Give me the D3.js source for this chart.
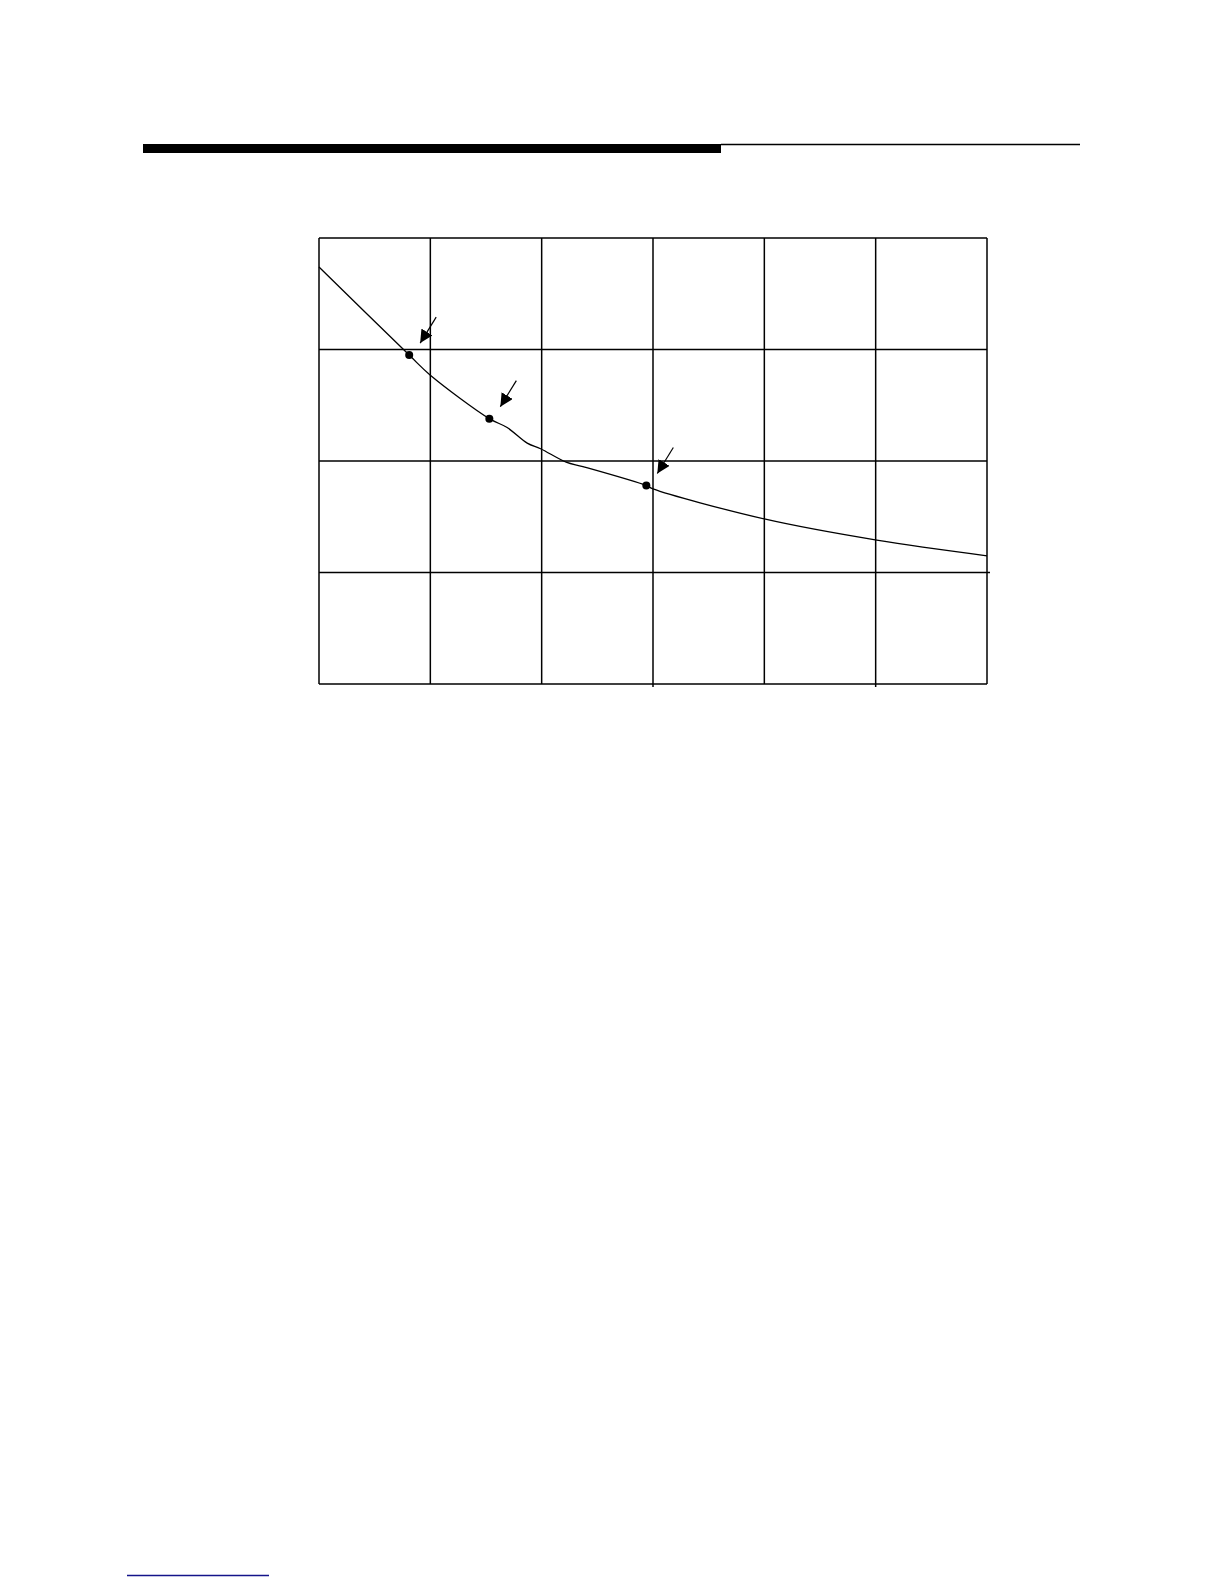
<!DOCTYPE html>
<html>
<head>
<meta charset="utf-8">
<script src="https://cdn.jsdelivr.net/npm/d3@7"></script>
<style>
  html, body { margin: 0; padding: 0; background: #fff; }
  svg { display: block; }
</style>
</head>
<body>
<script>
// Grid divisions (unlabeled chart): 6 columns x 4 rows
const xTicks = [0, 1, 2, 3, 4, 5, 6];
const yTicks = [0, 1, 2, 3, 4];

// Curve values (x in grid columns, y in grid rows)
const curveX = [0, 0.81, 1.0, 1.53, 1.69, 1.87, 1.99, 2.22, 2.37, 2.94, 3.0, 4.0, 5.01, 6.0];
const curveY = [3.74, 2.95, 2.77, 2.38, 2.30, 2.16, 2.11, 1.99, 1.95, 1.78, 1.75, 1.48, 1.29, 1.15];

// Marked points
const pointX = [0.81, 1.53, 2.94];
const pointY = [2.95, 2.38, 1.78];

const W = 1224, H = 1584;
const svg = d3.select("body").append("svg").attr("width", W).attr("height", H);

// Header rule
svg.append("rect").attr("x", 143).attr("y", 144).attr("width", 578).attr("height", 9).attr("fill", "#000");
svg.append("line").attr("x1", 721).attr("x2", 1080).attr("y1", 144.5).attr("y2", 144.5)
  .attr("stroke", "#000").attr("stroke-width", 1.3);

// Footnote separator
svg.append("line").attr("x1", 127).attr("x2", 269).attr("y1", 1575.5).attr("y2", 1575.5)
  .attr("stroke", "#14148a").attr("stroke-width", 1.3);

const x = d3.scaleLinear().domain([0, 6]).range([319, 987]);
const y = d3.scaleLinear().domain([0, 4]).range([684, 238]);

const g = svg.append("g");

// Vertical grid lines
g.selectAll("line.v").data(xTicks).join("line")
  .attr("class", "v")
  .attr("x1", d => x(d)).attr("x2", d => x(d))
  .attr("y1", y(4)).attr("y2", (d, i) => (i === 3 || i === 5) ? y(0) + 3 : y(0))
  .attr("stroke", "#000").attr("stroke-width", 1.5);

// Horizontal grid lines
g.selectAll("line.h").data(yTicks).join("line")
  .attr("class", "h")
  .attr("x1", x(0)).attr("x2", d => d === 1 ? x(6) + 3 : x(6))
  .attr("y1", d => y(d)).attr("y2", d => y(d))
  .attr("stroke", "#000").attr("stroke-width", 1.5);

// Curve
const curveData = curveX.map((v, i) => [v, curveY[i]]);
const line = d3.line().x(d => x(d[0])).y(d => y(d[1])).curve(d3.curveCatmullRom.alpha(0.5));
g.append("path").datum(curveData).attr("d", line)
  .attr("fill", "none").attr("stroke", "#000").attr("stroke-width", 1.3);

// Points
const pts = pointX.map((v, i) => [v, pointY[i]]);
g.selectAll("circle.pt").data(pts).join("circle")
  .attr("class", "pt")
  .attr("cx", d => x(d[0])).attr("cy", d => y(d[1])).attr("r", 4)
  .attr("fill", "#000");

// Arrows pointing down-left at each point
const defs = svg.append("defs");
defs.append("marker").attr("id", "ah")
  .attr("viewBox", "0 0 10 10").attr("refX", 10).attr("refY", 5)
  .attr("markerWidth", 13).attr("markerHeight", 13).attr("markerUnits", "userSpaceOnUse")
  .attr("orient", "auto")
  .append("path").attr("d", "M0,0 L10,5 L0,10 Z").attr("fill", "#000");

g.selectAll("line.arrow").data(pts).join("line")
  .attr("class", "arrow")
  .attr("x1", d => x(d[0]) + 27).attr("y1", d => y(d[1]) - 38)
  .attr("x2", d => x(d[0]) + 11).attr("y2", d => y(d[1]) - 12)
  .attr("stroke", "#000").attr("stroke-width", 1.2)
  .attr("marker-end", "url(#ah)");
</script>
</body>
</html>
